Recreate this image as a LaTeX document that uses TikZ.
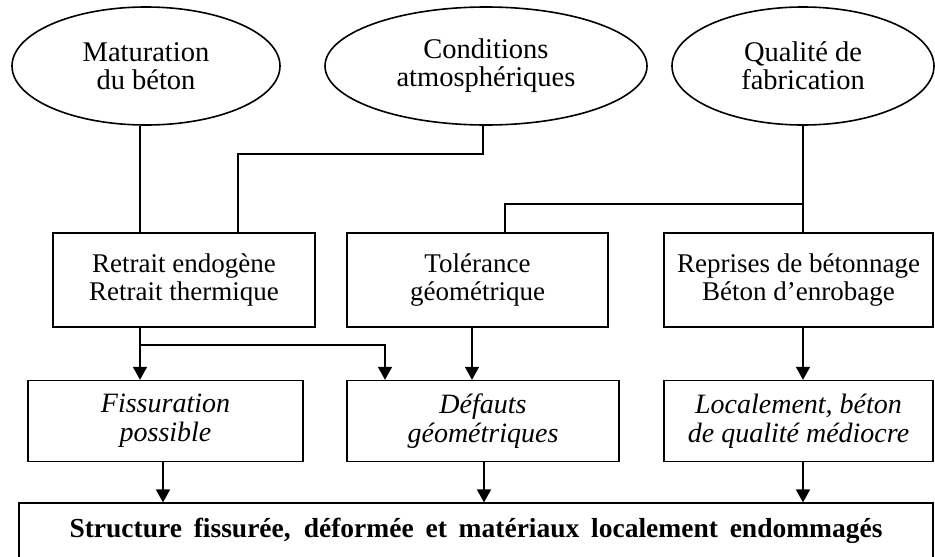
\documentclass[tikz,border=0pt]{standalone}
\usepackage{fontspec}
\setmainfont{Liberation Serif}
\usetikzlibrary{shapes.geometric,arrows.meta,positioning,calc}

\begin{document}
\begin{tikzpicture}[x=1pt,y=-1pt,line width=1.6pt,>={Triangle[length=13pt,width=14pt]},
  cause/.style={ellipse,draw,inner sep=0pt,minimum height=118pt,align=center,font=\fontsize{28.5}{28}\selectfont},
  source/.style={rectangle,draw,inner sep=0pt,minimum height=94pt,align=center,font=\fontsize{27}{28}\selectfont},
  effet/.style={rectangle,draw,inner sep=0pt,minimum height=81pt,align=center,font=\fontsize{28}{29}\selectfont\itshape},
  bilan/.style={rectangle,draw,inner sep=0pt,minimum height=56pt,font=\fontsize{27.5}{27}\selectfont\bfseries}]
\useasboundingbox (0,0) rectangle (935,557);
% columns of the vertical lines
\foreach \n/\x in {a/140,b/238,c/483,d/505,e/385,f/472,g/163,h/484}
  \coordinate (col\n) at (\x,0);

% causes
\path node[cause,minimum width=268pt] (mat) at (146,66) {Maturation\\du béton};
\path node[cause,minimum width=322pt] (cond) at (486,66) {Conditions\\atmosphériques};
\path node[cause,minimum width=262pt] (qual) at (803,66) {Qualité de\\fabrication};

% sources
\path node[source,minimum width=262pt] (retr) at (184,280) {Retrait endogène\\Retrait thermique};
\path node[source,minimum width=261pt] (tol) at (477.5,280) {Tolérance\\géométrique};
\path node[source,minimum width=269pt] (rep) at (798.5,280) {Reprises de bétonnage\\Béton d’enrobage};

% effets
\path node[effet,minimum width=275pt,below=52pt of retr,xshift=-18.5pt] (fiss) {Fissuration\\possible};
\path node[effet,minimum width=272pt,below=52pt of tol,xshift=5.5pt] (defa) {Défauts\\géométriques};
\path node[effet,minimum width=269pt,below=52pt of rep] (loc) {Localement, béton\\de qualité médiocre};

\path node[bilan,minimum width=914pt,below=40pt of defa,xshift=-7pt] (bil)
  {\makebox[813pt][s]{Structure fissurée, déformée et matériaux localement endommagés}};

\draw (mat.south -| cola) -- (retr.north -| cola);
\draw (cond.south -| colc) |- ($(retr.north -| colb)+(0,-78)$) -- (retr.north -| colb);
\draw (qual.south) -- (rep.north -| qual.south);
\draw ($(rep.north -| qual.south)+(0,-28)$) -| (tol.north -| cold);

\draw[->] (retr.south -| cola) -- (fiss.north -| cola);
\draw[->] ($(retr.south -| cola)+(0,17)$) -| (defa.north -| cole);
\draw[->] (tol.south -| colf) -- (defa.north -| colf);
\draw[->] (rep.south -| qual.south) -- (loc.north -| qual.south);

\draw[->] (fiss.south -| colg) -- (bil.north -| colg);
\draw[->] (defa.south -| colh) -- (bil.north -| colh);
\draw[->] (loc.south -| qual.south) -- (bil.north -| qual.south);
\end{tikzpicture}
\end{document}
